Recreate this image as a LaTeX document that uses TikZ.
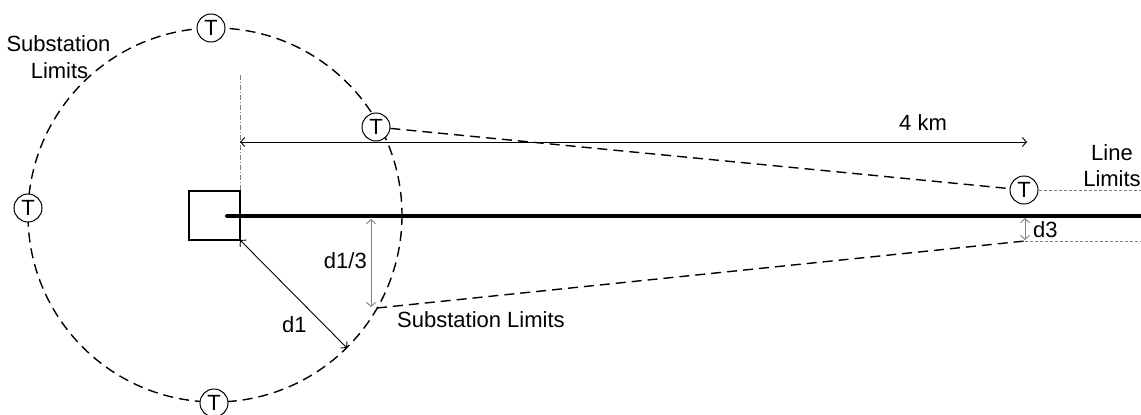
\documentclass[tikz,border=0pt]{standalone}
\usepackage{fontspec}
\setmainfont{Liberation Sans}
\usetikzlibrary{arrows.meta}
\begin{document}
\begin{tikzpicture}[x=1pt,y=-1pt,
  txt/.style={font=\fontsize{22}{26}\selectfont, inner sep=0pt},
  tnode/.style={circle, draw, fill=white, line width=1pt, minimum size=28pt, inner sep=0pt, font=\fontsize{22}{22}\selectfont},
  limit/.style={line width=1.4pt, dash pattern=on 10pt off 6pt},
  guide/.style={gray, line width=0.9pt, dash pattern=on 3pt off 2pt},
  dimline/.style={line width=0.9pt, {Straight Barb[length=4pt,width=9pt]}-{Straight Barb[length=4pt,width=9pt]}},
]
\useasboundingbox (0,0) rectangle (1141,415);

% substation limits circle
\coordinate (c) at (215,215);
\draw[limit] (c) circle[radius=187];

% vertical guide
\coordinate (vt) at (240,75);
\coordinate (vb) at (240,247);
\draw[gray, line width=0.8pt, dash pattern=on 5pt off 2pt on 1pt off 2pt] (vt) -- (vb);

% substation square and line
\node[draw, line width=2.2pt, minimum width=51pt, minimum height=49pt, inner sep=0pt] (ss) at (214.5,215.5) {};
\coordinate (ls) at (227,216);
\coordinate (le) at (1150,216);
\draw[line width=4pt, line cap=round] (ls) -- (le);

% towers
\node[tnode] (Ttop) at (211,28) {T};
\node[tnode] (Tleft) at (28,208) {T};
\node[tnode] (Tbot) at (214,403) {T};
\node[tnode] (Tur) at (376,127) {T};
\node[tnode] (Tr) at (1024,190) {T};

% line limits
\draw[limit] (Tur) -- (Tr);
\coordinate (lo1) at (377,308);
\coordinate (lo2) at (1025,241);
\draw[limit] (lo1) -- (lo2);
\coordinate (gr1) at (1141,190);
\coordinate (gr2) at (1141,241);
\draw[guide] (Tr.east) -- (gr1);
\draw[guide] (lo2) -- (gr2);

% 4 km dimension
\coordinate (ka) at (240,142);
\coordinate (kb) at (1027,142);
\draw[dimline] (ka) -- (kb);
\node[txt, anchor=base west] (km) at (899,130) {4 km};

% d3
\coordinate (d3a) at (1025,218);
\coordinate (d3b) at (1025,240);
\draw[dimline, gray] (d3a) -- (d3b);
\node[txt, anchor=base west] (d3) at (1033,237) {d3};

% d1/3
\coordinate (da) at (371,219);
\coordinate (db) at (371,307);
\draw[dimline, gray] (da) -- (db);
\node[txt, anchor=base east] (d13) at (367,268) {d1/3};

% d1
\coordinate (r1) at (240,240);
\coordinate (r2) at (347,348);
\draw[dimline] (r1) -- (r2);
\node[txt, anchor=base west] (d1) at (282,332) {d1};

% labels
\node[txt, anchor=base] (sl1) at (58.5,51.7) {Substation};
\node[txt, anchor=base] (sl2) at (59.5,78) {Limits};
\node[txt, anchor=base] (ll1) at (1112,160) {Line};
\node[txt, anchor=base] (ll2) at (1112,186) {Limits};
\node[txt, anchor=base west] (sl3) at (397,327) {Substation Limits};
\end{tikzpicture}
\end{document}
